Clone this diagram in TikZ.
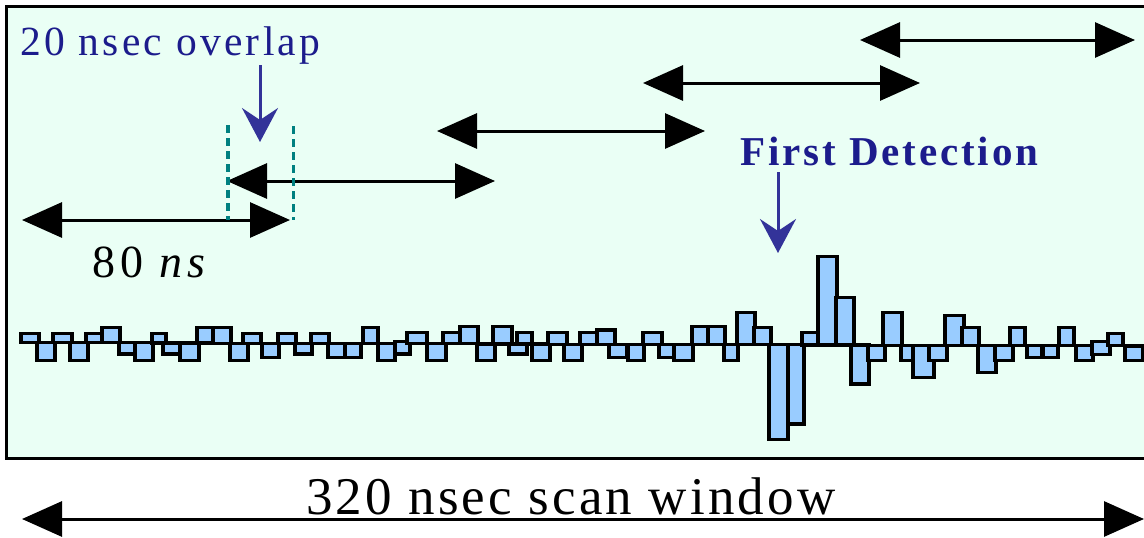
\documentclass[tikz,border=0pt]{standalone}
\usepackage{fontspec}
\setmainfont{Liberation Serif}
\newfontfamily\labelfont[LetterSpace=8]{Liberation Serif}
\newfontfamily\detectfont[LetterSpace=7]{Liberation Serif}
\newfontfamily\nsfont[LetterSpace=11]{Liberation Serif}
\newfontfamily\scanfont[LetterSpace=6]{Liberation Serif}
\usetikzlibrary{arrows.meta}

\definecolor{mint}{RGB}{234,255,245}
\definecolor{barblue}{RGB}{153,204,255}
\definecolor{navytext}{RGB}{28,28,140}
\definecolor{navyarrow}{RGB}{51,51,153}
\definecolor{tealdash}{RGB}{0,128,128}

\tikzset{
  span/.style={line width=3pt,
    {Triangle[length=40pt,width=35pt]}-{Triangle[length=40pt,width=35pt]}},
  pointer/.style={line width=3pt, navyarrow,
    -{Stealth[length=34pt,width=36pt,inset=12pt]}},
  overlapmark/.style={line width=3.2pt, tealdash, dash pattern=on 8pt off 5pt},
  pulse/.style={fill=barblue, draw=black, line width=3.2pt},
  lbl/.style={inner sep=0pt, anchor=base west},
}

\begin{document}
\begin{tikzpicture}[x=1pt,y=-1pt]
\useasboundingbox (0,0) rectangle (1144,538);
\clip (0,0) rectangle (1144,538);

% panel
\draw[line width=3pt, fill=mint] (6.5,6.5) rectangle (1170,458.5);

% received signal samples: left x / right x / far edge y / near edge y (0 = baseline)
\foreach \xa/\xb/\yf/\yn in {
  21/39/333.3/0, 37/55/360.7/0, 53/72/333.3/0, 70/88/360.7/0, 86/102/333.3/0,
  102/120/327.3/0, 119/135/354/0, 135/153/360.7/0, 152/166/333.3/0, 163/180/354/0,
  180/199/360.7/0, 197/213/327.3/0, 213/231/327.3/0, 230/248/360.7/0, 243/261/333.3/0,
  262/279/357.3/0, 278/296/333.3/0, 295/312/354/0, 311/329/333.3/0, 328/345/357.3/0,
  345/361/357.3/0, 363/378/327.3/0, 378/395/360.7/0, 395/410/354/341.7, 407/427/332.7/0,
  427/446/360.7/0, 443/462/332.7/0, 460/478/326.7/0, 477/495/360.7/0, 493/512/326.7/0,
  509/527/354/0, 517/532/332.7/0, 532/550/360.7/0, 548/567/332.7/0, 564/582/360.7/0,
  580/597/332.7/0, 597/615/330/0, 609/627/357.3/0, 628/644/360.7/0, 643/662/332.7/0,
  659/675/357.3/0, 674/693/360.7/0, 692/708/326.7/0, 708/725/326.7/0, 724/738/360.7/0,
  737/755/312.5/0, 754/771/327.3/0, 769/788/439.3/0, 788/804/424/0, 802/820/332.7/0,
  818/837/256.7/0, 836/854/297.7/0, 851/869/384/0, 868/885/360.7/0, 883/902/312.7/0,
  901/913/360.7/0, 913/934/377.3/0, 929/947/360.7/0, 945/964/315.7/0, 962/979/327.3/0,
  978/996/372.7/0, 995/1013/360.7/0, 1010/1025/327.3/0, 1027/1042/357.3/0, 1043/1058/357.3/0,
  1059/1074/327.3/0, 1076/1093/360.7/0, 1092/1110/354.3/341.7, 1108/1123/333.3/0,
  1125/1143/360.7/0}{
  \pgfmathsetmacro\base{ifthenelse(\yn==0, 342.5+0.00312*(\xa-21), \yn)}
  \draw[pulse] (\xa,\base) rectangle (\xb,\yf);
}

% 80 ns scan segments
\coordinate (a1) at (22,220);  \coordinate (a2) at (290,220);
\coordinate (b1) at (227,181); \coordinate (b2) at (495,181);
\coordinate (c1) at (437,131); \coordinate (c2) at (705,131);
\coordinate (d1) at (643,83);  \coordinate (d2) at (920,83);
\coordinate (e1) at (860,40);  \coordinate (e2) at (1135,40);
\draw[span] (a1) -- (a2);
\draw[span] (b1) -- (b2);
\draw[span] (c1) -- (c2);
\draw[span] (d1) -- (d2);
\draw[span] (e1) -- (e2);

% overlap markers
\coordinate (m1t) at (228,125);   \coordinate (m1b) at (228,220);
\coordinate (m2t) at (293.3,126); \coordinate (m2b) at (293.3,220);
\draw[overlapmark] (m1t) -- (m1b);
\draw[overlapmark] (m2t) -- (m2b);

% full scan window
\coordinate (s1) at (22,519); \coordinate (s2) at (1144,519);
\draw[span] (s1) -- (s2);

% labels
\node[lbl, navytext] (overlap) at (20,55) {\fontsize{41.5}{48}\labelfont 20 nsec overlap};
\node[lbl] (ns) at (92,277) {\fontsize{46}{52}\nsfont 80 \itshape ns};
\node[lbl, navytext] (first) at (740,165) {\fontsize{41}{48}\detectfont\bfseries First Detection};
\node[lbl] (scan) at (306,514) {\fontsize{53}{60}\scanfont 320 nsec scan window};

% pointers
\coordinate (p1) at (260,65);  \coordinate (p2) at (260,142);
\coordinate (q1) at (778,172); \coordinate (q2) at (778,253);
\draw[pointer] (p1) -- (p2);
\draw[pointer] (q1) -- (q2);
\end{tikzpicture}
\end{document}
